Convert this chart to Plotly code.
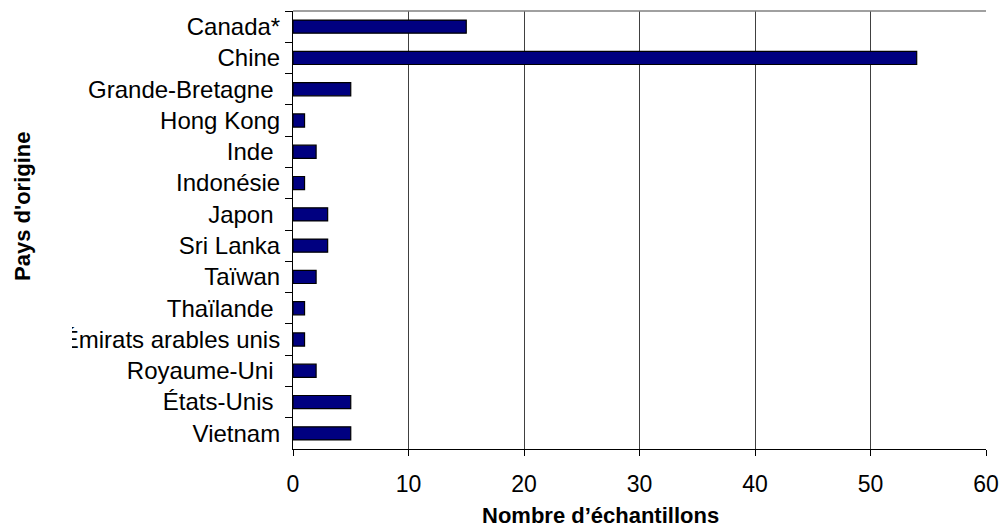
import plotly.graph_objects as go

# Number of samples by country of origin
pays = ["Canada*", "Chine", "Grande-Bretagne ", "Hong Kong", "Inde ", "Indonésie",
        "Japon ", "Sri Lanka", "Taïwan", "Thaïlande ", "Émirats arables unis",
        "Royaume-Uni ", "États-Unis ", "Vietnam"]
echantillons = [15, 54, 5, 1, 2, 1, 3, 3, 2, 1, 1, 2, 5, 5]
x_ticks = [0, 10, 20, 30, 40, 50, 60]

FONT = "Liberation Sans, Arial, sans-serif"

fig = go.Figure(go.Bar(
    x=echantillons,
    y=pays,
    orientation="h",
    marker=dict(color="#000080", line=dict(color="#000000", width=1.2)),
    hoverinfo="x+y",
))

fig.update_layout(
    width=1001, height=529,
    margin=dict(l=293, r=15, t=11, b=80),
    paper_bgcolor="white", plot_bgcolor="white",
    bargap=0.58,
    showlegend=False,
    font=dict(family=FONT, size=23, color="#000000"),
    xaxis=dict(
        range=[0, 60], tickvals=x_ticks, ticks="outside", ticklen=6,
        tickcolor="#000000", showline=True, linecolor="#000000", linewidth=1,
        showgrid=True, gridcolor="#404040", gridwidth=1, zeroline=False,
        tickfont=dict(size=23), ticklabelstandoff=8, automargin=False,
    ),
    yaxis=dict(
        autorange="reversed", type="category", ticks="outside", ticklen=7,
        tickson="boundaries", tickcolor="#000000", showline=True,
        linecolor="#000000", linewidth=1, showgrid=False,
        tickfont=dict(size=24), ticklabelstandoff=7, automargin=False,
    ),
    annotations=[
        dict(text="<b>Nombre d’échantillons</b>", xref="paper", yref="paper",
             x=(600 - 293) / 693, y=-52 / 438, xanchor="center", yanchor="top",
             showarrow=False, font=dict(family=FONT, size=22)),
        dict(text="<b>Pays d'origine</b>", xref="paper", yref="paper",
             x=(22 - 293) / 693, y=1 - (206 - 11) / 438, xanchor="center",
             yanchor="middle", textangle=-90, showarrow=False,
             font=dict(family=FONT, size=22)),
    ],
    shapes=[
        # grey frame line along the top of the plot area
        dict(type="line", xref="paper", yref="paper", x0=0, x1=1, y0=1, y1=1,
             line=dict(color="#808080", width=1.5)),
        # the long label is cut at the left edge of the label column
        dict(type="rect", xref="paper", yref="y", x0=(40 - 293) / 693,
             x1=(72 - 293) / 693, y0=9.5, y1=10.5, layer="above",
             fillcolor="white", line=dict(width=0)),
    ],
)

fig.write_html("out.html")
